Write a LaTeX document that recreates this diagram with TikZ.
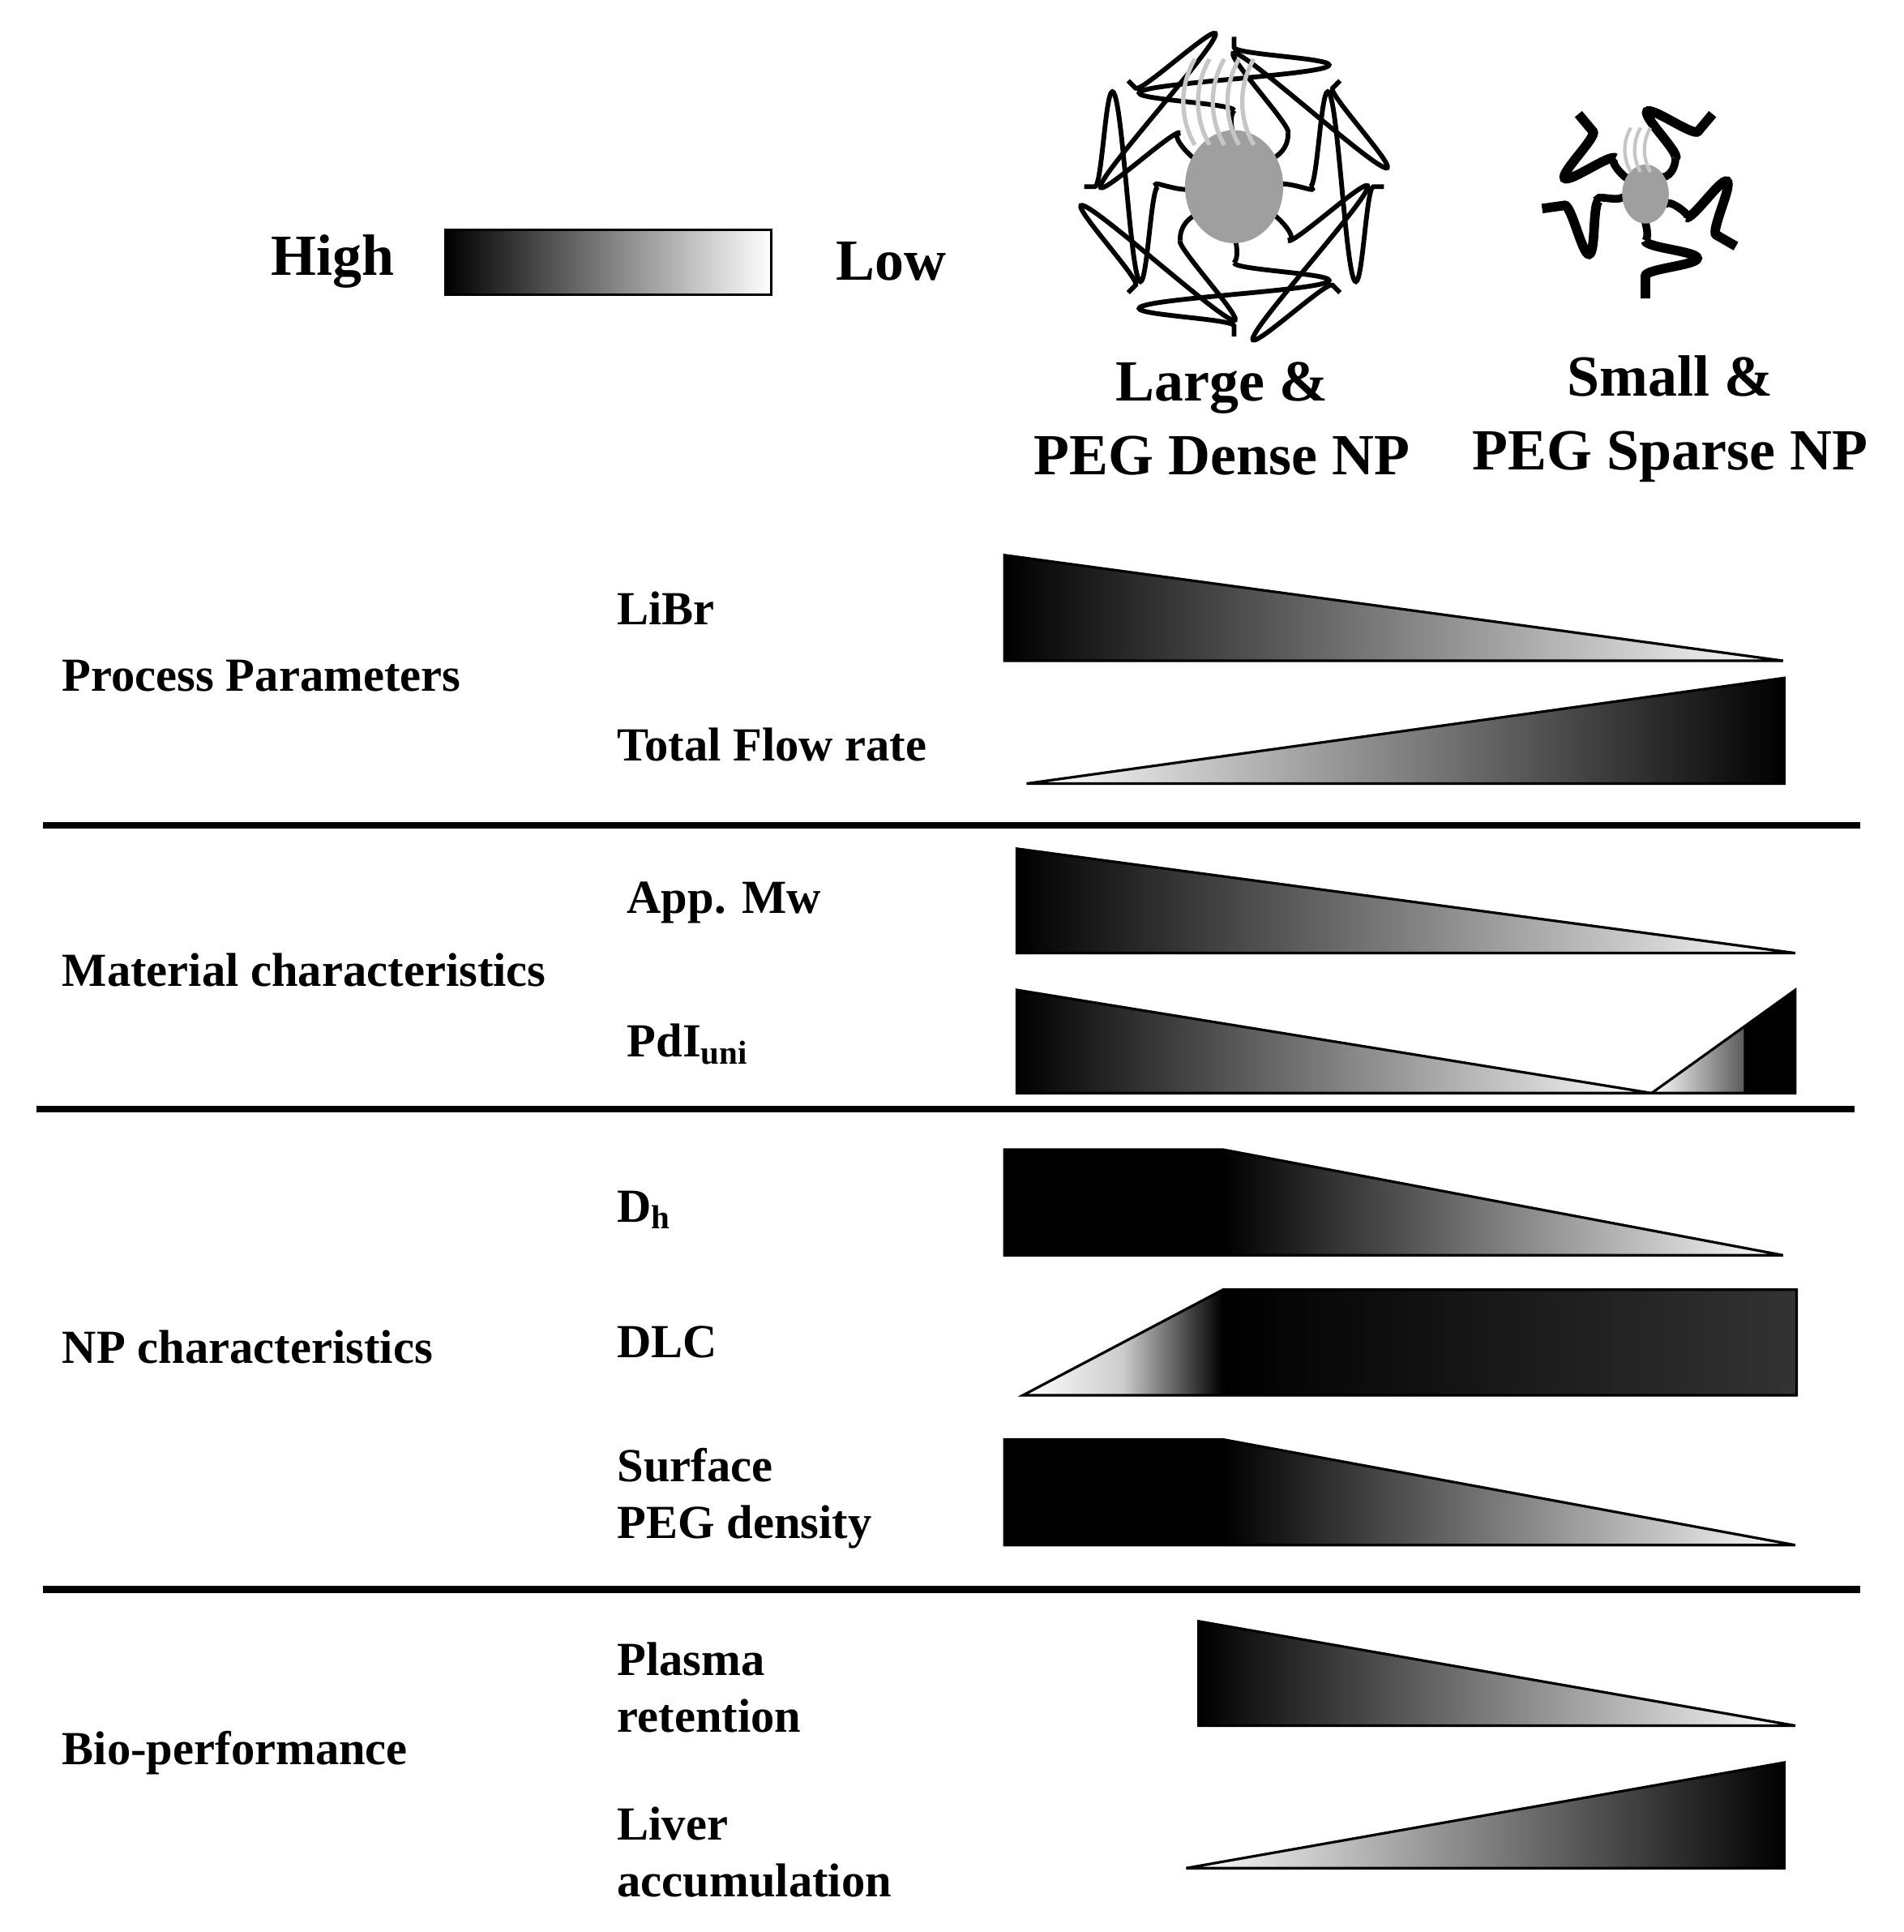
\documentclass[tikz,border=0pt]{standalone}
\usepackage{fontspec}
\setmainfont{Liberation Serif}
\usetikzlibrary{decorations.pathmorphing}
\begin{document}
\begin{tikzpicture}[x=0.1mm,y=-0.1mm,
  lbl/.style={anchor=west,font=\fontsize{11}{13}\selectfont\bfseries,align=left,inner sep=0},
  big/.style={font=\fontsize{13.5}{17}\selectfont\bfseries,align=center,inner sep=0},
  wedge/.style={draw=black,line width=0.6pt},
  sep/.style={line width=1.6pt},
  coil/.style={decorate,decoration={snake,amplitude=#1,segment length=13}},
  coil/.default=20]
\useasboundingbox (0,0) rectangle (1550,1573);
% legend
\shade[left color=black,right color=white] (363,187) rectangle (628,240);
\draw[line width=0.6pt] (363,187) rectangle (628,240);
\node[big,anchor=east] (high) at (322,213) {High};
\node[big,anchor=west] (low) at (680,213) {Low};
% NP labels
\node[big] (large) at (995,341) {Large \&\\PEG Dense NP};
\node[big] (small) at (1360,341) {Small \&\\PEG Sparse NP};
% large NP
\begin{scope}[shift={(1005,152)}]
\foreach \a in {90,45,0,-45,-90,-135,180,135}{
  \draw[line width=1.1pt] (\a:30) to[out=\a+40,in=\a-40] (\a:62);
  \draw[line width=1.1pt,coil=22] (\a:62) -- (\a:122);
}
\fill[gray!75] (0,0) ellipse (40 and 46);
\foreach \k in {-24,-12,0,12,24}{\draw[gray!45,line width=1pt] (\k-8,-34) arc (150:210:70);}
\end{scope}
% small NP
\begin{scope}[shift={(1340,158)}]
\foreach \a in {90,30,172,-50,-130}{
  \draw[line width=1.8pt] (\a:18) to[out=\a+40,in=\a-40] (\a:38);
  \draw[line width=2.2pt,coil=12] (\a:38) -- (\a:85);
}
\fill[gray!75] (0,0) ellipse (19 and 24);
\foreach \k in {-8,0,8}{\draw[gray!45,line width=0.8pt] (\k-4,-18) arc (150:210:36);}
\end{scope}
% group labels
\node[lbl] (pp) at (50,550) {Process Parameters};
\node[lbl] (mc) at (50,790) {Material characteristics};
\node[lbl] (npc) at (50,1097) {NP characteristics};
\node[lbl] (bio) at (50,1427) {Bio-performance};
% sub labels
\node[lbl] (libr) at (502,495) {LiBr};
\node[lbl] (tfr) at (502,606) {Total Flow rate};
\node[lbl] (mw) at (510,735) {App. Mw};
\node[lbl] (pdi) at (510,850) {PdI\textsubscript{uni}};
\node[lbl] (dh) at (502,985) {D\textsubscript{h}};
\node[lbl] (dlc) at (502,1093) {DLC};
\node[lbl] (peg) at (502,1220) {Surface\\PEG density};
\node[lbl] (pl) at (502,1374) {Plasma\\retention};
\node[lbl] (lv) at (502,1508) {Liver\\accumulation};
% separators
\draw[sep] (35,672) -- (1515,672);
\draw[sep] (30,903) -- (1510,903);
\draw[sep] (35,1294) -- (1515,1294);
% wedges
\shade[left color=black,right color=white] (818,452) -- (1452,538) -- (818,538) -- cycle;
\draw[wedge] (818,452) -- (1452,538) -- (818,538) -- cycle;
\shade[left color=white,right color=black] (836,638) -- (1453,552) -- (1453,638) -- cycle;
\draw[wedge] (836,638) -- (1453,552) -- (1453,638) -- cycle;
\shade[left color=black,right color=white] (828,691) -- (1462,776) -- (828,776) -- cycle;
\draw[wedge] (828,691) -- (1462,776) -- (828,776) -- cycle;
\shade[left color=black,right color=white] (828,806) -- (1345,890) -- (828,890) -- cycle;
\draw[wedge] (828,806) -- (1345,890) -- (828,890) -- cycle;
\shade[left color=white,right color=black] (1345,890) -- (1462,806) -- (1462,890) -- cycle;
\fill[black] (1420,836) -- (1462,806) -- (1462,890) -- (1420,890) -- cycle;
\draw[wedge] (1345,890) -- (1462,806) -- (1462,890) -- cycle;
% Dh
\fill[black] (818,936) rectangle (996,1022);
\shade[left color=black,right color=white] (996,936) -- (1452,1022) -- (996,1022) -- cycle;
\draw[wedge] (818,936) -- (996,936) -- (1452,1022) -- (818,1022) -- cycle;
% DLC
\shade[left color=white,right color=black,middle color=white!80!black] (833,1136) -- (996,1050) -- (996,1136) -- cycle;
\shade[left color=black,right color=black!80] (996,1050) rectangle (1463,1136);
\draw[wedge] (833,1136) -- (996,1050) -- (1463,1050) -- (1463,1136) -- cycle;
% Surface PEG
\fill[black] (818,1172) rectangle (996,1258);
\shade[left color=black,right color=white] (996,1172) -- (1462,1258) -- (996,1258) -- cycle;
\draw[wedge] (818,1172) -- (996,1172) -- (1462,1258) -- (818,1258) -- cycle;
% Plasma
\shade[left color=black,right color=white] (976,1320) -- (1462,1405) -- (976,1405) -- cycle;
\draw[wedge] (976,1320) -- (1462,1405) -- (976,1405) -- cycle;
% Liver
\shade[left color=white,right color=black] (966,1521) -- (1453,1435) -- (1453,1521) -- cycle;
\draw[wedge] (966,1521) -- (1453,1435) -- (1453,1521) -- cycle;
\end{tikzpicture}
\end{document}
